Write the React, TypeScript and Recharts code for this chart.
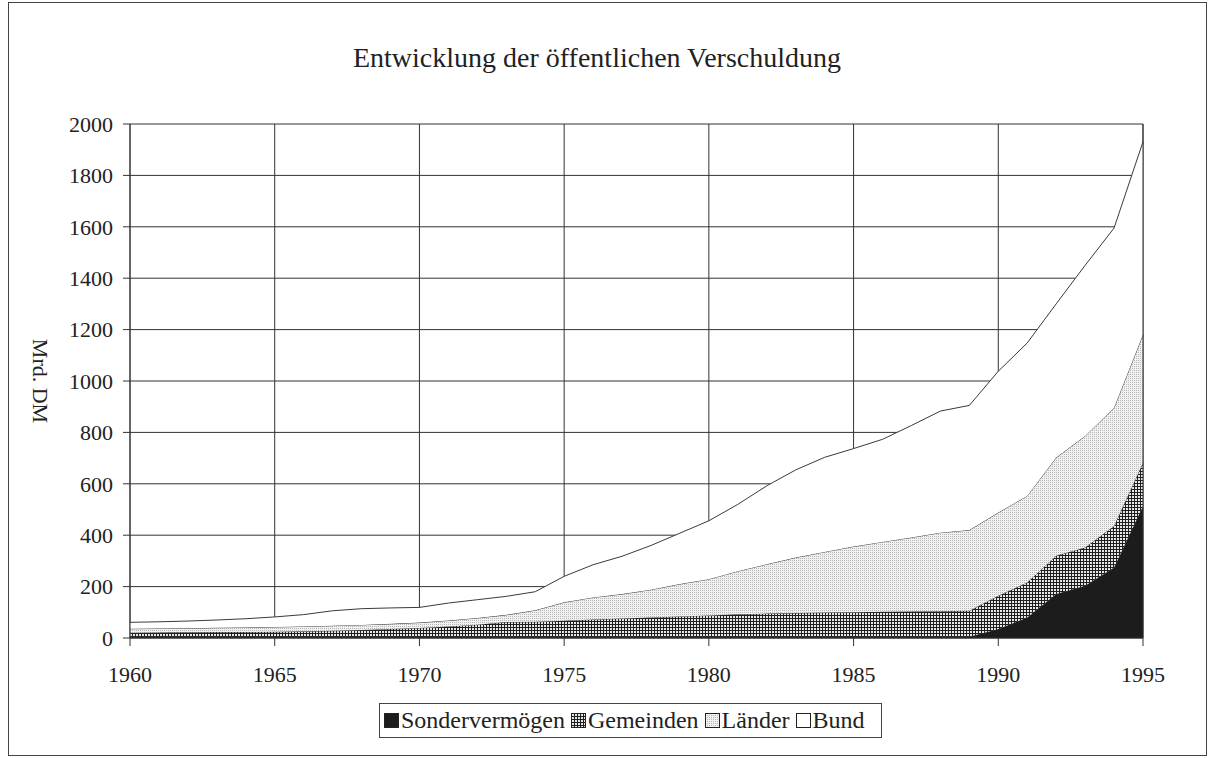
import { AreaChart, Area, XAxis, YAxis, CartesianGrid, ReferenceLine } from "recharts"

const years = [
  1960, 1961, 1962, 1963, 1964, 1965, 1966, 1967, 1968, 1969,
  1970, 1971, 1972, 1973, 1974, 1975, 1976, 1977, 1978, 1979,
  1980, 1981, 1982, 1983, 1984, 1985, 1986, 1987, 1988, 1989,
  1990, 1991, 1992, 1993, 1994, 1995,
]

// Mrd. DM
const sondervermoegen = [
  5, 5, 5, 5, 5, 5, 5, 5, 5, 5,
  5, 5, 5, 5, 5, 5, 5, 5, 5, 5,
  5, 5, 5, 5, 5, 5, 5, 5, 5, 5,
  35, 80, 171, 203, 274, 514,
]
const gemeinden = [
  15, 16, 17, 18, 18, 19, 21, 23, 26, 30,
  34, 40, 47, 57, 58, 62, 67, 71, 75, 79,
  83, 87, 90, 92, 94, 95, 97, 98, 99, 101,
  129, 136, 149, 149, 162, 168,
]
const laender = [
  16, 16, 16, 17, 18, 19, 19, 20, 20, 20,
  21, 23, 26, 28, 45, 72, 86, 95, 108, 126,
  141, 168, 192, 216, 236, 256, 272, 288, 306, 314,
  324, 337, 382, 434, 460, 499,
]
const bund = [
  25, 26, 28, 30, 34, 39, 46, 58, 63, 62,
  59, 68, 71, 72, 72, 101, 127, 147, 172, 198,
  227, 260, 305, 341, 368, 381, 399, 436, 473, 485,
  550, 595, 598, 664, 699, 750,
]

const xTicks = [1960, 1965, 1970, 1975, 1980, 1985, 1990, 1995]
const yTicks = [0, 200, 400, 600, 800, 1000, 1200, 1400, 1600, 1800, 2000]

const data = years.map((year, i) => ({
  year,
  sondervermoegen: sondervermoegen[i],
  gemeinden: gemeinden[i],
  laender: laender[i],
  bund: bund[i],
}))

const font = '"Liberation Serif", "Times New Roman", serif'
const ink = "#222"

const legendItems = [
  { name: "Sondervermögen", fill: "#1c1c1c" },
  { name: "Gemeinden", fill: "url(#hatchGemeinden)" },
  { name: "Länder", fill: "url(#dotsLaender)" },
  { name: "Bund", fill: "#ffffff" },
]

function YLabel(props: any) {
  const vb = props.viewBox || { x: 70, y: 124, height: 514 }
  const x = vb.x - 30
  const y = vb.y + vb.height / 2
  return (
    <text
      x={x}
      y={y}
      transform={`rotate(90, ${x}, ${y})`}
      textAnchor="middle"
      dominantBaseline="central"
      fontFamily={font}
      fontSize={22}
      fill={ink}
    >
      Mrd. DM
    </text>
  )
}

export default function App() {
  return (
    <div style={{ position: "absolute", left: 0, top: 0, width: 1218, height: 758, background: "#fff", fontFamily: font }}>
      <div
        style={{
          position: "absolute",
          left: 8,
          top: 2,
          width: 1197,
          height: 752,
          border: "1px solid #444",
        }}
      />
      <div
        style={{
          position: "absolute",
          left: 0,
          top: 42,
          width: 1194,
          textAlign: "center",
          fontSize: 28,
          color: ink,
          lineHeight: "32px",
        }}
      >
        Entwicklung der öffentlichen Verschuldung
      </div>

      <div style={{ position: "absolute", left: 0, top: 0 }}>
        <AreaChart
          width={1218}
          height={758}
          data={data}
          margin={{ top: 124, right: 75, bottom: 60, left: 70 }}
        >
          <defs>
            <pattern id="hatchGemeinden" width="3" height="3" patternUnits="userSpaceOnUse">
              <rect width="3" height="3" fill="#1e1e1e" />
              <rect x="1" y="1" width="2" height="2" fill="#e8e8e8" />
            </pattern>
            <pattern id="dotsLaender" width="2" height="2" patternUnits="userSpaceOnUse">
              <rect width="2" height="2" fill="#f1f1f1" />
              <rect width="1" height="1" fill="#b8b8b8" />
            </pattern>
          </defs>
          <CartesianGrid stroke="#333" strokeWidth={1} />
          <XAxis
            dataKey="year"
            type="number"
            domain={[1960, 1995]}
            ticks={xTicks}
            interval={0}
            height={60}
            tickSize={8}
            tickMargin={20}
            axisLine={{ stroke: "#333" }}
            tickLine={{ stroke: "#333" }}
            tick={{ fill: ink, fontFamily: font, fontSize: 22 }}
          />
          <YAxis
            type="number"
            domain={[0, 2000]}
            ticks={yTicks}
            interval={0}
            width={60}
            tickSize={7}
            tickMargin={10}
            axisLine={{ stroke: "#333" }}
            tickLine={{ stroke: "#333" }}
            tick={{ fill: ink, fontFamily: font, fontSize: 22 }}
            label={<YLabel />}
          />
          <Area
            type="linear"
            dataKey="sondervermoegen"
            stackId="1"
            stroke="#3a3a3a"
            strokeWidth={1}
            fill="#1c1c1c"
            fillOpacity={1}
            isAnimationActive={false}
          />
          <Area
            type="linear"
            dataKey="gemeinden"
            stackId="1"
            stroke="#3a3a3a"
            strokeWidth={1}
            fill="url(#hatchGemeinden)"
            fillOpacity={1}
            isAnimationActive={false}
          />
          <Area
            type="linear"
            dataKey="laender"
            stackId="1"
            stroke="#3a3a3a"
            strokeWidth={1}
            fill="url(#dotsLaender)"
            fillOpacity={1}
            isAnimationActive={false}
          />
          <Area
            type="linear"
            dataKey="bund"
            stackId="1"
            stroke="#3a3a3a"
            strokeWidth={1}
            fill="#ffffff"
            fillOpacity={1}
            isAnimationActive={false}
          />
          <ReferenceLine x={1995} stroke="#333" />
        </AreaChart>
      </div>

      <div
        style={{
          position: "absolute",
          left: 379,
          top: 703,
          width: 503,
          height: 35,
          border: "1px solid #444",
          boxSizing: "border-box",
          display: "flex",
          alignItems: "center",
          paddingLeft: 4,
          fontSize: 24,
          color: ink,
          whiteSpace: "nowrap",
        }}
      >
        {legendItems.map((it) => (
          <span key={it.name} style={{ display: "inline-flex", alignItems: "center", marginRight: 6 }}>
            <svg width={15} height={15} style={{ marginRight: 2 }}>
              <rect x={0.5} y={0.5} width={14} height={14} fill={it.fill} stroke="#222" />
            </svg>
            {it.name}
          </span>
        ))}
      </div>
    </div>
  )
}
